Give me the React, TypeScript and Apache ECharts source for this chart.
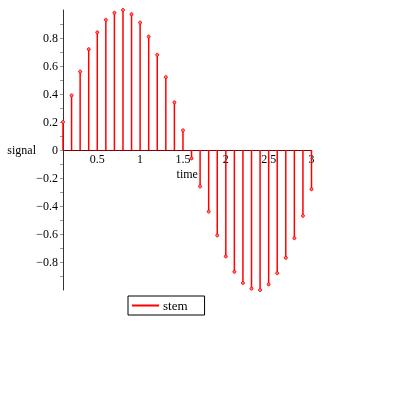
import React, { useEffect, useRef } from "react";
import * as echarts from "echarts";

const times = [0.1, 0.2, 0.3, 0.4, 0.5, 0.6, 0.7, 0.8, 0.9, 1.0, 1.1, 1.2, 1.3, 1.4, 1.5, 1.6, 1.7, 1.8, 1.9, 2.0, 2.1, 2.2, 2.3, 2.4, 2.5, 2.6, 2.7, 2.8, 2.9, 3.0];
const signal = [0.2, 0.39, 0.56, 0.72, 0.84, 0.93, 0.98, 1.0, 0.97, 0.91, 0.81, 0.68, 0.52, 0.34, 0.14, -0.06, -0.26, -0.44, -0.61, -0.76, -0.87, -0.95, -0.99, -1.0, -0.96, -0.88, -0.77, -0.63, -0.47, -0.28];
const xLabels = [0.5, 1, 1.5, 2, 2.5, 3];
const yLabels = [-0.8, -0.6, -0.4, -0.2, 0, 0.2, 0.4, 0.6, 0.8];
const yMinorTicks = [-0.9, -0.8, -0.7, -0.6, -0.5, -0.4, -0.3, -0.2, -0.1, 0, 0.1, 0.2, 0.3, 0.4, 0.5, 0.6, 0.7, 0.8, 0.9];

export default function App() {
  const ref = useRef<HTMLDivElement>(null);
  useEffect(() => {
    const chart = echarts.init(ref.current!, null, { renderer: "svg" });
    const font = "'Liberation Serif', 'Times New Roman', serif";
    chart.setOption({
      animation: false,
      textStyle: { fontFamily: font },
      grid: { left: 63, right: 83.5, top: 10, bottom: 105, outerBoundsMode: "none" },
      legend: {
        left: 128,
        top: 296,
        data: [{ name: "stem", icon: "rect" }],
        itemWidth: 27,
        itemHeight: 2,
        itemGap: 4,
        padding: [3, 17, 3, 4],
        borderColor: "#000",
        borderWidth: 1,
        textStyle: { fontFamily: font, fontSize: 13, color: "#000", padding: [0, 0, 0, -1] },
      },
      xAxis: {
        type: "value",
        min: 0.1,
        max: 3.0,
        offset: -140,
        name: "time",
        nameLocation: "middle",
        nameGap: 18,
        nameMoveOverlap: false,
        nameTextStyle: { fontFamily: font, fontSize: 12, color: "#000", verticalAlign: "top" },
        axisLine: { onZero: false, lineStyle: { color: "#800000", width: 1 } },
        axisTick: { show: false },
        splitLine: { show: false },
        axisLabel: {
          customValues: xLabels,
          margin: 3,
          fontFamily: font,
          fontSize: 12,
          color: "#000",
          formatter: (v: number) => String(v),
          showMinLabel: true,
          showMaxLabel: true,
        },
      },
      yAxis: {
        type: "value",
        min: -1,
        max: 1,
        name: "signal",
        nameLocation: "middle",
        nameRotate: 0,
        nameGap: 27,
        nameMoveOverlap: false,
        nameTextStyle: { fontFamily: font, fontSize: 12, color: "#000", align: "right", verticalAlign: "middle" },
        axisLine: { show: true, onZero: false, lineStyle: { color: "#333", width: 1 } },
        axisTick: { show: true, customValues: yMinorTicks, length: 3, lineStyle: { color: "#999" } },
        splitLine: { show: false },
        axisLabel: {
          customValues: yLabels,
          margin: 5,
          fontFamily: font,
          fontSize: 12,
          color: "#000",
          formatter: (v: number) => String(v).replace("-", "\u2212"),
        },
      },
      series: [
        {
          name: "stem",
          type: "custom",
          itemStyle: { color: "red" },
          data: times.map((t, i) => [t, signal[i]]),
          encode: { x: 0, y: 1 },
          renderItem: (params: any, api: any) => {
            const x = api.value(0);
            const y = api.value(1);
            const top = api.coord([x, y]);
            const base = api.coord([x, 0]);
            return {
              type: "group",
              children: [
                {
                  type: "line",
                  shape: { x1: base[0], y1: base[1], x2: top[0], y2: top[1] },
                  style: { stroke: "red", lineWidth: 1.5 },
                },
                {
                  type: "circle",
                  shape: { cx: top[0], cy: top[1], r: 1.5 },
                  style: { fill: "#ff8080", stroke: "red", lineWidth: 1 },
                },
              ],
            };
          },
        },
      ],
    });
    return () => chart.dispose();
  }, []);
  return <div ref={ref} style={{ position: "fixed", left: 0, top: 0, width: 395, height: 395 }} />;
}
